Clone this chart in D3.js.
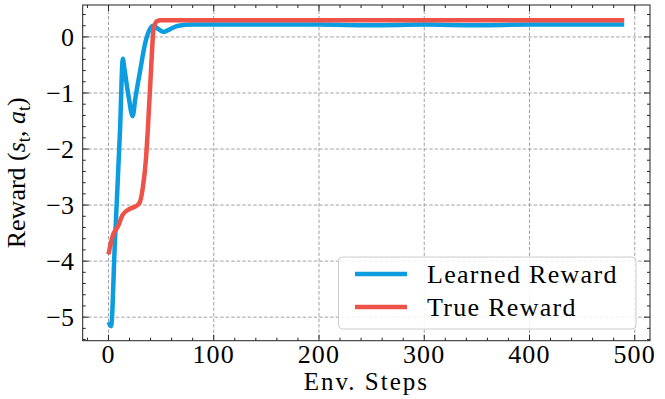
<!DOCTYPE html>
<html>
<head>
<meta charset="utf-8">
<script src="https://cdn.jsdelivr.net/npm/d3@7"></script>
<style>
  body { margin: 0; background: #fff; }
  svg { display: block; font-family: "Liberation Serif", serif; }
</style>
</head>
<body>
<svg id="chart" width="665" height="399"></svg>
<script>
// data
var learnedX = [0, 2.5, 6, 11, 13.6, 15, 19, 23, 25.4, 30, 35, 39.6, 42.5, 46, 52, 58.6, 66.5, 79, 100, 150, 200, 250, 300, 350, 400, 450, 490];
var learnedY = [-5.09, -5.16, -3.7, -1.65, -0.39, -0.55, -1.05, -1.41, -1.11, -0.61, -0.1, 0.15, 0.2, 0.16, 0.09, 0.14, 0.2, 0.22, 0.22, 0.22, 0.22, 0.21, 0.22, 0.21, 0.22, 0.22, 0.22];
var trueX = [0, 4, 9, 13.6, 20, 26, 29.5, 32.6, 35.8, 37.4, 40.6, 42.8, 45.9, 50, 100, 200, 300, 400, 490];
var trueY = [-3.88, -3.55, -3.38, -3.17, -3.07, -3.02, -2.96, -2.69, -2.13, -1.65, -0.52, 0.13, 0.28, 0.3, 0.3, 0.3, 0.3, 0.3, 0.3];

var xTicks = [0, 100, 200, 300, 400, 500];
var yTicks = [0, -1, -2, -3, -4, -5];
var seriesNames = ["Learned Reward", "True Reward"];
var seriesColors = ["#0c9de0", "#ee5248"];

var svg = d3.select("#chart");
// plot box (note: "top" would clash with window.top)
var pl = 82.7, pr = 650, pt = 5, pb = 340.7;

var x = d3.scaleLinear().domain([-24.5, 514.5]).range([pl, pr]);
var y = d3.scaleLinear().domain([-5.42, 0.57]).range([pb, pt]);

// grid
var grid = svg.append("g").attr("stroke", "#999").attr("stroke-width", 0.9).attr("stroke-dasharray", "3.5,2");
xTicks.forEach(function(t) {
  grid.append("line").attr("x1", x(t)).attr("x2", x(t)).attr("y1", pt).attr("y2", pb);
});
yTicks.forEach(function(t) {
  grid.append("line").attr("x1", pl).attr("x2", pr).attr("y1", y(t)).attr("y2", y(t));
});

// lines
var line = d3.line().curve(d3.curveMonotoneX);
var series = [
  d3.zip(learnedX, learnedY),
  d3.zip(trueX, trueY)
];
series.forEach(function(s, i) {
  svg.append("path")
    .attr("d", line(s.map(function(p) { return [x(p[0]), y(p[1])]; })))
    .attr("fill", "none")
    .attr("stroke", seriesColors[i])
    .attr("stroke-width", 4.5)
    .attr("stroke-linejoin", "round");
});

// inward ticks on all four sides
var minorX = d3.range(-20, 515, 20).filter(function(v) { return v % 100 !== 0; });
var minorY = d3.range(-5.4, 0.58, 0.2).map(function(v) { return Math.round(v * 10) / 10; })
  .filter(function(v) { return Math.abs(v - Math.round(v)) > 0.01; });
var axes = svg.append("g").attr("stroke", "#222").attr("stroke-width", 1);
function tickX(v, len) {
  axes.append("line").attr("x1", x(v)).attr("x2", x(v)).attr("y1", pb).attr("y2", pb - len);
  axes.append("line").attr("x1", x(v)).attr("x2", x(v)).attr("y1", pt).attr("y2", pt + len);
}
function tickY(v, len) {
  axes.append("line").attr("y1", y(v)).attr("y2", y(v)).attr("x1", pl).attr("x2", pl + len);
  axes.append("line").attr("y1", y(v)).attr("y2", y(v)).attr("x1", pr).attr("x2", pr - len);
}
xTicks.forEach(function(v) { tickX(v, 6); });
minorX.forEach(function(v) { tickX(v, 3); });
yTicks.forEach(function(v) { tickY(v, 6); });
minorY.forEach(function(v) { tickY(v, 3); });

svg.append("rect")
  .attr("x", pl).attr("y", pt).attr("width", pr - pl).attr("height", pb - pt)
  .attr("fill", "none").attr("stroke", "#222").attr("stroke-width", 1);

// tick labels
svg.append("g").selectAll("text").data(xTicks).join("text")
  .attr("x", function(d) { return x(d); })
  .attr("y", 363)
  .attr("text-anchor", "middle")
  .attr("font-size", 26).attr("letter-spacing", 1.2)
  .text(function(d) { return d; });

svg.append("g").selectAll("text").data(yTicks).join("text")
  .attr("x", 74)
  .attr("y", function(d) { return y(d) + 8.8; })
  .attr("text-anchor", "end")
  .attr("font-size", 26)
  .text(function(d) { return d < 0 ? "\u2212" + Math.abs(d) : d; });

// axis titles
svg.append("text")
  .attr("x", (pl + pr) / 2).attr("y", 390)
  .attr("text-anchor", "middle").attr("font-size", 25).attr("letter-spacing", 2)
  .text("Env. Steps");

var yl = svg.append("text")
  .attr("transform", "translate(25," + ((pt + pb) / 2) + ") rotate(-90)")
  .attr("text-anchor", "middle").attr("font-size", 26);
yl.append("tspan").text("Reward (");
yl.append("tspan").attr("font-style", "italic").text("s");
yl.append("tspan").attr("font-size", 18).attr("dy", 5).text("t");
yl.append("tspan").attr("dy", -5).text(", ");
yl.append("tspan").attr("font-style", "italic").text("a");
yl.append("tspan").attr("font-size", 18).attr("dy", 5).text("t");
yl.append("tspan").attr("dy", -5).text(")");

// legend
var lg = svg.append("g");
lg.append("rect")
  .attr("x", 338.5).attr("y", 257).attr("width", 297.5).attr("height", 72)
  .attr("rx", 4).attr("fill", "#fff").attr("fill-opacity", 0.85)
  .attr("stroke", "#cccccc").attr("stroke-width", 1);
seriesNames.forEach(function(name, i) {
  var ly = 274 + i * 33;
  lg.append("line").attr("x1", 355).attr("x2", 407).attr("y1", ly).attr("y2", ly)
    .attr("stroke", seriesColors[i]).attr("stroke-width", 4.5);
  lg.append("text").attr("x", 427).attr("y", ly + 9)
    .attr("font-size", 26).attr("letter-spacing", 1.3).text(name);
});
</script>
</body>
</html>
